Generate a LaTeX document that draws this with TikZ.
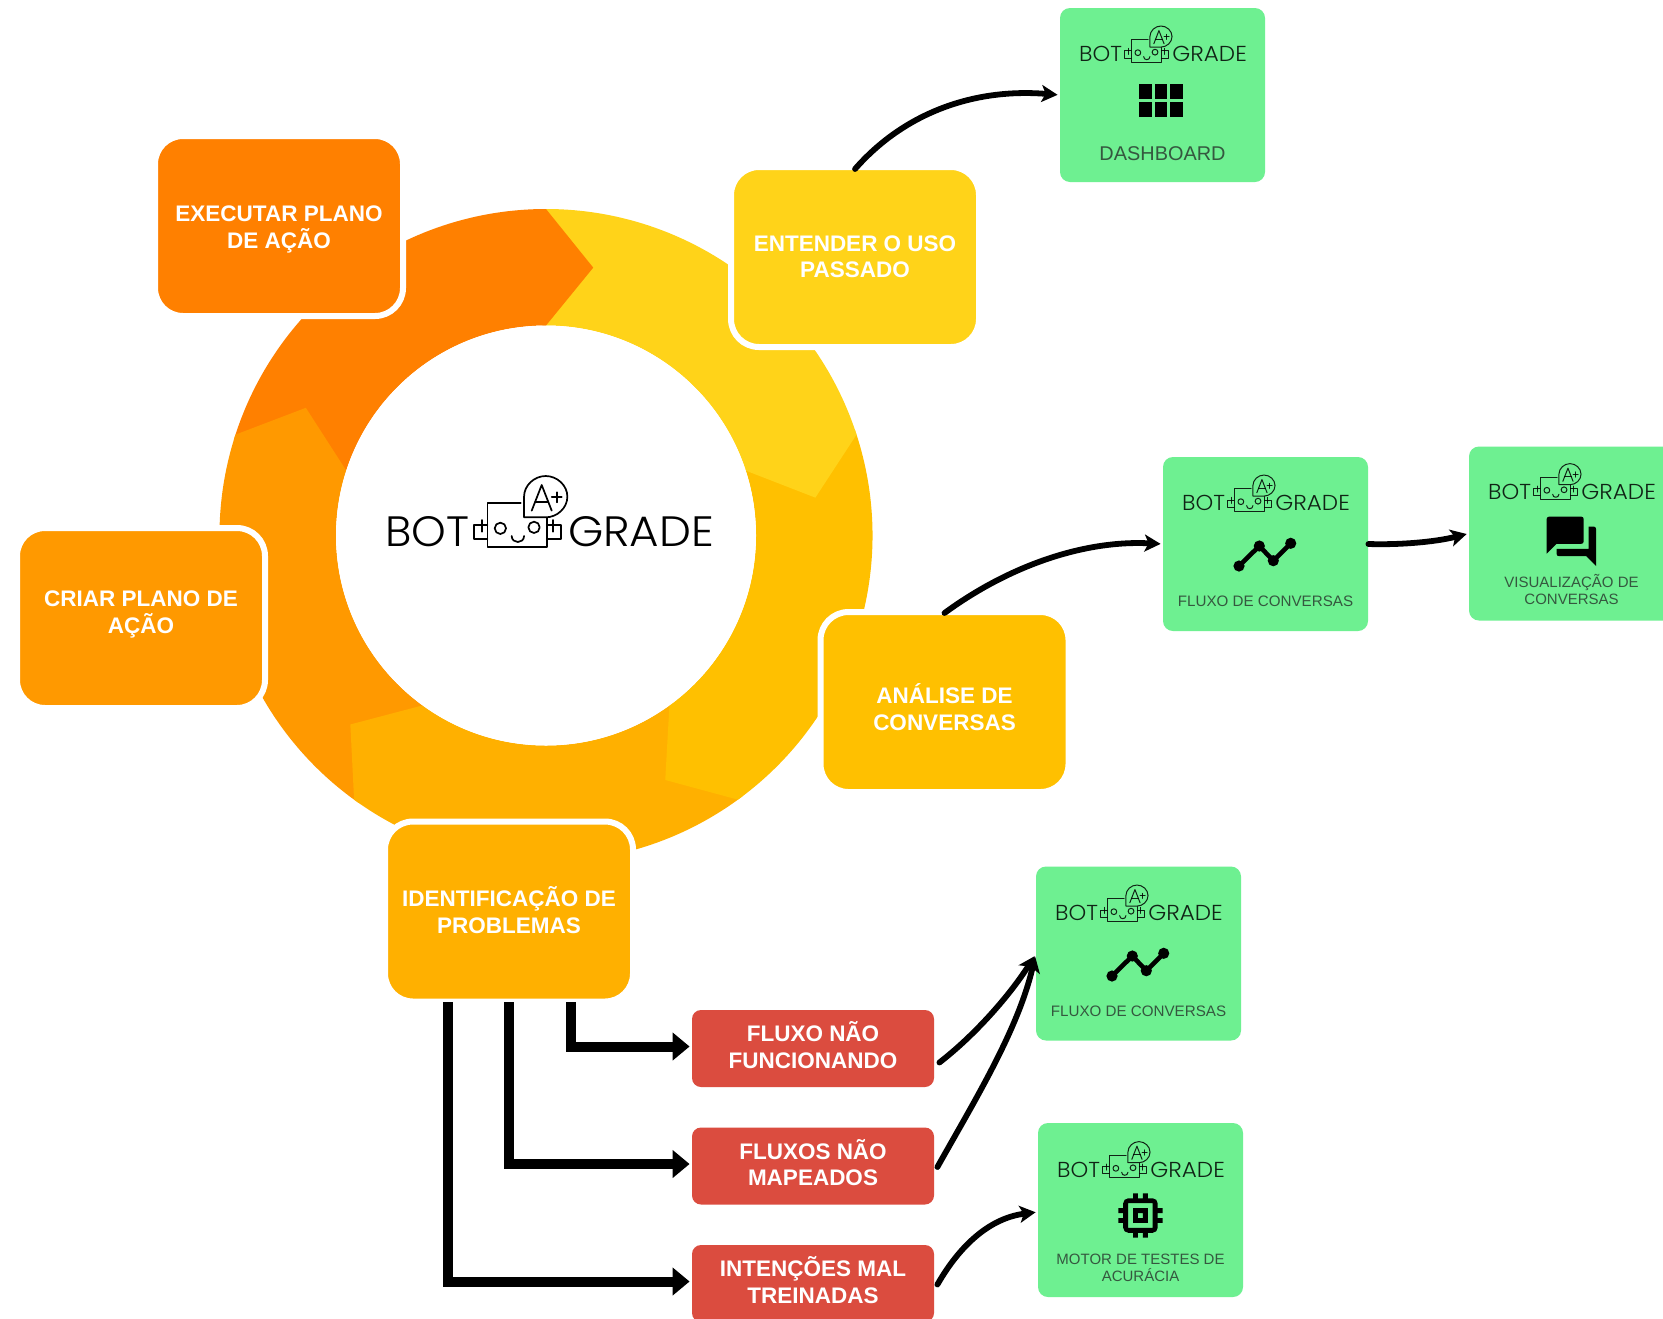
\documentclass[tikz,border=0pt]{standalone}
\usepackage{fontspec}
\setmainfont{Liberation Sans}
\newfontfamily\logofont{Poppins Light}
\usetikzlibrary{arrows.meta,calc}
\definecolor{cOrange}{HTML}{FF8000}
\definecolor{cYellow}{HTML}{FFD319}
\definecolor{cGold}{HTML}{FFC000}
\definecolor{cAmber}{HTML}{FFB000}
\definecolor{cMid}{HTML}{FF9900}
\definecolor{cGreen}{HTML}{6EF091}
\definecolor{cRed}{HTML}{DB4C3F}
\definecolor{cCaption}{HTML}{35583F}
\tikzset{
  cyclebox/.style={draw=white,line width=3pt,rounded corners=14pt,minimum width=124pt,minimum height=90pt,inner sep=0pt},
  boxtext/.style={text=white,align=center,inner sep=0pt,font=\fontsize{11.25pt}{13.25pt}\selectfont\bfseries},
  greenbox/.style={fill=cGreen,rounded corners=5pt,minimum width=102.5pt,minimum height=87pt,inner sep=0pt},
  redbox/.style={fill=cRed,rounded corners=4.5pt,minimum width=121pt,minimum height=38.5pt,inner sep=0pt},
  caption/.style={text=cCaption,align=center,inner sep=0pt,font=\fontsize{7.5pt}{8.8pt}\selectfont},
  elbow/.style={line width=5pt,-{Triangle[length=8.5pt,width=13.5pt]},shorten >=1pt},
  curvy/.style={line width=2.9pt,line cap=round,-{Stealth[length=8pt,width=8.5pt,inset=2pt]},shorten >=1pt}
}
% #1 x, #2 y, #3 scale, #4 line width, #5 opacity
\newcommand{\botlogo}[5]{%
  \begin{scope}[shift={(#1,#2)},scale=#3,x=0.16667pt,y=-0.16667pt,line width=#4,opacity=#5,line join=round,line cap=round]
    \node[anchor=base east,inner sep=0pt,outer sep=0pt,transform shape] at (-238,0) {\logofont\resizebox{42pt}{15pt}{BOT}};
    \node[anchor=base west,inner sep=0pt,outer sep=0pt,transform shape] at (58,0) {\logofont\resizebox{73pt}{15pt}{GRADE}};
    \draw (-84,-128) -- (-184,-128) -- (-184,2) -- (-6,2) -- (-6,-83);
    \draw (-184,-63) -- (-224,-63) -- (-224,-21) -- (-184,-21);
    \draw (-6,-63) -- (36,-63) -- (36,-21) -- (-6,-21);
    \draw (-201,-78) -- (-201,-43);
    \draw (12,-78) -- (12,-43);
    \draw (-145,-53) circle[radius=17];
    \draw (-44,-56) circle[radius=17];
    \draw (-111,-30) .. controls (-111,-6) and (-74,-6) .. (-74,-30);
    \draw (-74,-86) -- (-74,-148) .. controls (-74,-182) and (-43,-210) .. (-9,-210) .. controls (25,-210) and (56,-182) .. (56,-148) .. controls (56,-114) and (25,-86) .. (-9,-86) -- cycle;
    \draw (-51,-106) -- (-21,-183) -- (9,-106);
    \draw (-40.5,-133) -- (-1.5,-133);
    \draw (9,-146) -- (39,-146);
    \draw (24,-161) -- (24,-131);
  \end{scope}}
% trend icon: #1 box centre x, #2 box top y
\newcommand{\trendicon}[2]{%
  \begin{scope}[shift={(#1,#2)}]
    \draw[line width=2.3pt,line join=round] (-26.5,109) -- (-6.2,89) -- (7.8,103.7) -- (25.2,86.3);
    \fill (-26.5,109) circle[radius=5.6];
    \fill (-6.2,89) circle[radius=5.6];
    \fill (7.8,103.7) circle[radius=5.6];
    \fill (25.2,86.3) circle[radius=5.6];
  \end{scope}}
\begin{document}
\begin{tikzpicture}[x=0.5pt,y=-0.5pt]
\useasboundingbox (0,0) rectangle (1663,1318);
\clip (0,0) rectangle (1663,1318);
\fill[white] (0,0) rectangle (1663,1318);
% ring
\begin{scope}[shift={(546,535.5)},x=0.5pt,y=0.5pt]
  \foreach \s/\e/\c in {162/90/cOrange,90/18/cYellow,18/-54/cGold,-54/-126/cAmber,-126/-198/cMid}{
    \fill[\c] (\s:326.5) arc[start angle=\s,end angle=\e,radius=326.5] -- (\e:210) arc[start angle=\e,end angle=\s,radius=210] -- cycle;
  }
  \foreach \e/\c in {90/cOrange,18/cYellow,-54/cGold,-126/cAmber,-198/cMid}{
    \fill[\c] (\e+1:326.5) -- (\e:326.5) -- (\e-10:272) -- (\e:210) -- (\e+1:210) -- cycle;
  }
  \fill[white] (0,0) circle[radius=210];
\end{scope}
\botlogo{548.7}{546}{1}{0.85pt}{1}
% cycle boxes
\node[cyclebox,fill=cOrange] (exec) at (279,226) {};
\node[cyclebox,fill=cYellow] (ent) at (855,257) {};
\node[cyclebox,fill=cGold] (ana) at (944.5,702) {};
\node[cyclebox,fill=cAmber] (iden) at (509,911.5) {};
\node[cyclebox,fill=cMid] (criar) at (141,618) {};
\node[boxtext] (execT) at (279,229.4) {EXECUTAR PLANO\\DE AÇÃO};
\node[boxtext] (entT) at (855,256.5) {ENTENDER O USO\\PASSADO};
\node[boxtext] (anaT) at (944.5,707.3) {ANÁLISE DE\\CONVERSAS};
\node[boxtext] (idenT) at (509,910) {IDENTIFICAÇÃO DE\\PROBLEMAS};
\node[boxtext] (criarT) at (141,614.3) {CRIAR PLANO DE\\AÇÃO};
% red boxes
\node[redbox] (rA) at (813,1048.5) {};
\node[redbox] (rB) at (813,1166) {};
\node[redbox] (rC) at (813,1283.5) {};
\node[boxtext] (rAT) at (813,1045.3) {FLUXO NÃO\\FUNCIONANDO};
\node[boxtext] (rBT) at (813,1162.8) {FLUXOS NÃO\\MAPEADOS};
\node[boxtext] (rCT) at (813,1280) {INTENÇÕES MAL\\TREINADAS};
% green boxes
\node[greenbox] (dash) at (1162.5,95) {};
\node[greenbox] (fluA) at (1265.5,544) {};
\node[greenbox] (visu) at (1571.5,533.5) {};
\node[greenbox] (fluB) at (1138.5,953.5) {};
\node[greenbox] (moto) at (1140.5,1210) {};
% logos in the green boxes (baseline)
\botlogo{1162.5}{61.7}{0.51}{0.5pt}{0.85}
\botlogo{1265.5}{510.7}{0.51}{0.5pt}{0.85}
\botlogo{1571.5}{499.3}{0.51}{0.5pt}{0.85}
\botlogo{1138.5}{920.7}{0.51}{0.5pt}{0.85}
\botlogo{1140.5}{1177.3}{0.51}{0.5pt}{0.85}
% captions
\node[caption,font=\fontsize{9.95pt}{12pt}\selectfont] (capD) at (1162.5,153.5) {DASHBOARD};
\node[caption,font=\fontsize{7.58pt}{8.8pt}\selectfont] (capF) at (1265.5,601) {FLUXO DE CONVERSAS};
\node[caption] (capV) at (1571.5,589.5) {VISUALIZAÇÃO DE\\CONVERSAS};
\node[caption,font=\fontsize{7.58pt}{8.8pt}\selectfont] (capG) at (1138.5,1011) {FLUXO DE CONVERSAS};
\node[caption] (capM) at (1140.5,1268) {MOTOR DE TESTES DE\\ACURÁCIA};
% grid icon
\foreach \cx in {1139.3,1154.6,1170}{
  \foreach \cy in {84,102.3}{
    \fill (\cx,\cy) rectangle ++(12.7,15);
  }
}
% trend icons
\trendicon{1265.5}{457}
\trendicon{1138.5}{867}
% chat icon
\begin{scope}[shift={(1541.7,511.7)},x=1.235pt,y=-1.235pt]
  \fill (3,2) -- (16,2) .. controls (16.6,2) and (17,2.4) .. (17,3) -- (17,12) .. controls (17,12.6) and (16.6,13) .. (16,13) -- (6,13) -- (2,17) -- (2,3) .. controls (2,2.4) and (2.4,2) .. (3,2) -- cycle;
  \fill (19,6) -- (21,6) .. controls (21.6,6) and (22,6.4) .. (22,7) -- (22,22) -- (18,18) -- (7,18) .. controls (6.4,18) and (6,17.6) .. (6,17) -- (6,15) -- (19,15) -- cycle;
\end{scope}
% chip icon
\begin{scope}[shift={(1110.9,1186)},x=1.23pt,y=-1.23pt]
  \fill[even odd rule] (7,5) -- (9,5) -- (9,3) -- (11,3) -- (11,5) -- (13,5) -- (13,3) -- (15,3) -- (15,5) -- (17,5) .. controls (18.1,5) and (19,5.9) .. (19,7) -- (19,9) -- (21,9) -- (21,11) -- (19,11) -- (19,13) -- (21,13) -- (21,15) -- (19,15) -- (19,17) .. controls (19,18.1) and (18.1,19) .. (17,19) -- (15,19) -- (15,21) -- (13,21) -- (13,19) -- (11,19) -- (11,21) -- (9,21) -- (9,19) -- (7,19) .. controls (5.9,19) and (5,18.1) .. (5,17) -- (5,15) -- (3,15) -- (3,13) -- (5,13) -- (5,11) -- (3,11) -- (3,9) -- (5,9) -- (5,7) .. controls (5,5.9) and (5.9,5) .. (7,5) -- cycle
    (7,7) rectangle (17,17) (9,9) rectangle (15,15) (11,11) rectangle (13,13);
\end{scope}
% connector start points under the problem box
\coordinate (idA) at (448,1002);
\coordinate (idB) at (509,1002);
\coordinate (idC) at (570.5,1002);
\draw[elbow] (idC) |- ($(rA.west)+(0,-2)$);
\draw[elbow] (idB) |- ($(rB.west)+(0,-2)$);
\draw[elbow] (idA) |- ($(rC.west)+(0,-2)$);
% curved connectors
\draw[curvy] ($(ent.north)+(0,5)$) .. controls (905,112) and (975,88) .. (dash.west);
\draw[curvy] ($(ana.north)+(0,4)$) .. controls (1010,565) and (1085,540) .. (fluA.west);
\draw[curvy] (fluA.east) .. controls (1400,545) and (1435,542) .. (visu.west);
\draw[curvy] ($(rA.east)+(5,14)$) .. controls (975,1035) and (1010,995) .. ($(fluB.west)+(0,1)$);
\draw[curvy] ($(rB.east)+(3,1)$) .. controls (975,1100) and (1018,1030) .. ($(fluB.west)+(0,1)$);
\draw[curvy] ($(rC.east)+(3,1)$) .. controls (960,1245) and (990,1218) .. ($(moto.west)+(0,2)$);
\end{tikzpicture}
\end{document}
